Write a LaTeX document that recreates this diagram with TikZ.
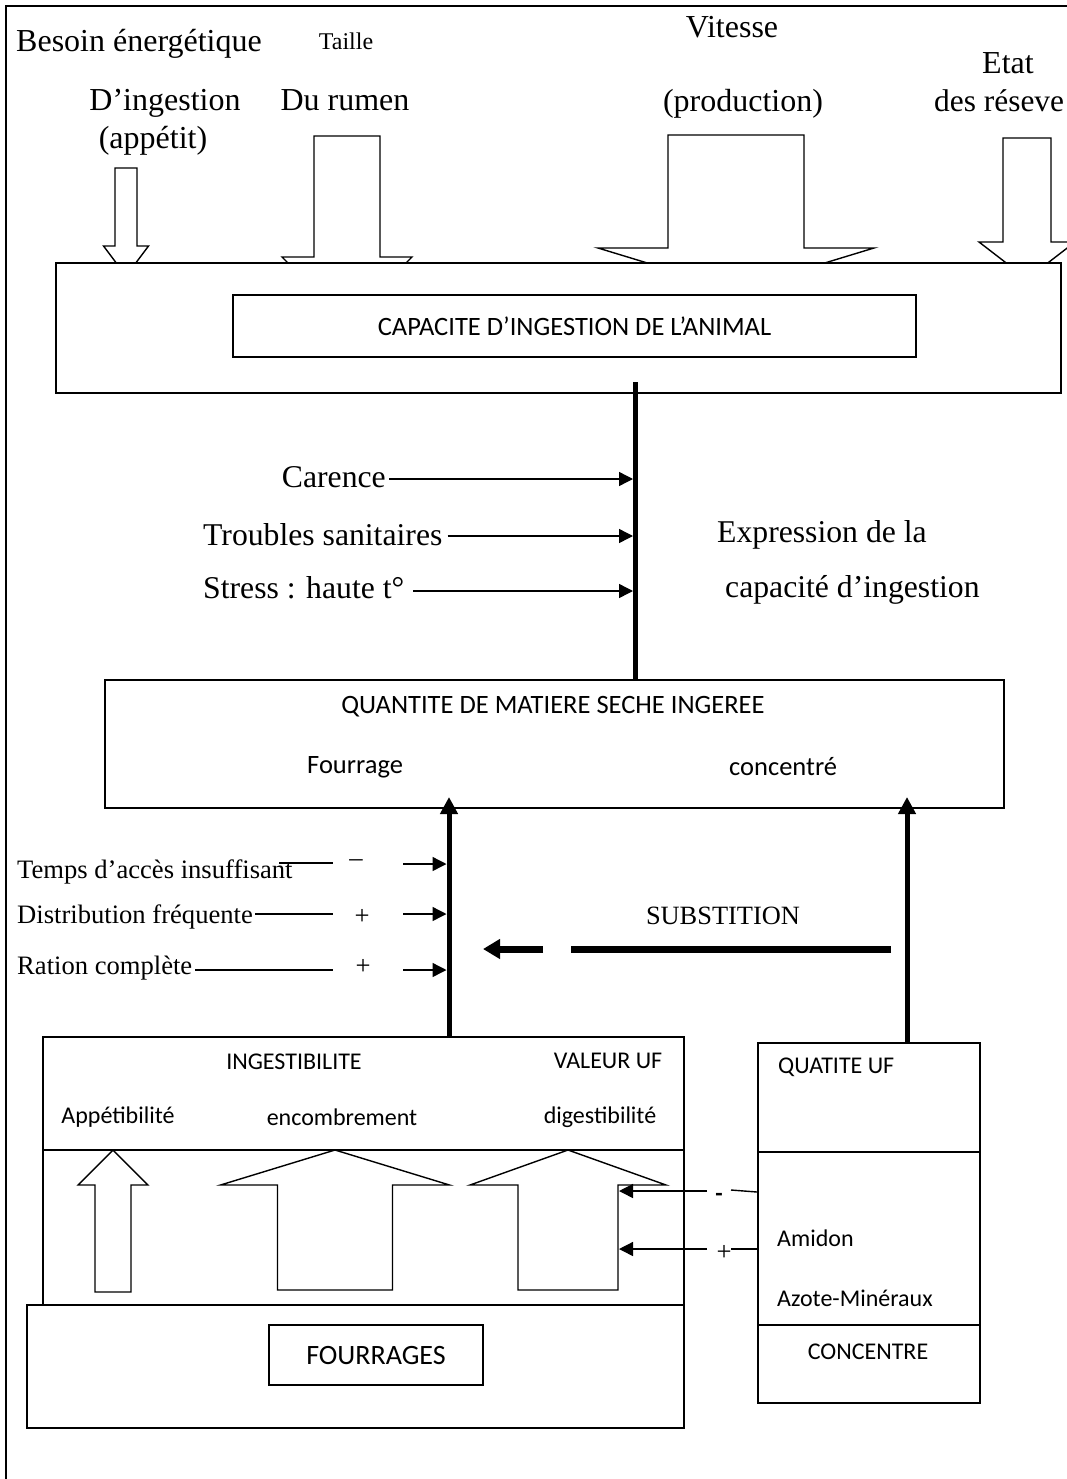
\documentclass[tikz,border=0pt]{standalone}
\usepackage{fontspec}
\setmainfont{Liberation Serif}
\setsansfont{Carlito}
\usetikzlibrary{arrows.meta}

% hollow block arrow: centre x, shaft half-width, head half-width,
% tail y, head-base y, tip y
\newcommand\blockarrowshape[6]{%
  \draw[blockarrow] ({#1-#2},#4) -- ({#1+#2},#4) -- ({#1+#2},#5) -- ({#1+#3},#5)
    -- (#1,#6) -- ({#1-#3},#5) -- ({#1-#2},#5) -- cycle;}

\begin{document}
\begin{tikzpicture}[x=1pt,y=-1pt,
  frame/.style={line width=1.6pt},
  box/.style={draw, line width=1.6pt, fill=white, inner sep=0pt},
  blockarrow/.style={draw, line width=1.4pt, fill=white, line join=miter},
  spine/.style={line width=5pt},
  link/.style={line width=1.4pt},
  pointer/.style={link, -{Triangle[length=14pt,width=14pt]}},
  bigpointer/.style={spine, -{Triangle[length=17pt,width=17pt]}},
  serifXL/.style={font=\fontsize{32}{38}\selectfont, inner sep=0pt},
  serifL/.style={font=\fontsize{31.7}{38}\selectfont, inner sep=0pt},
  serifM/.style={font=\fontsize{26.6}{32}\selectfont, inner sep=0pt},
  serifS/.style={font=\fontsize{24}{29}\selectfont, inner sep=0pt},
  sansL/.style={font=\sffamily\fontsize{26.5}{32}\selectfont, inner sep=0pt},
  sansM/.style={font=\sffamily\fontsize{24}{29}\selectfont, inner sep=0pt},
]
\useasboundingbox (0,0) rectangle (1066,1479);

% page frame (open to the right and bottom)
\draw[frame] (6,1490) -- (6,6) -- (1075,6);

% ---- factors acting on the animal ----
\blockarrowshape{126}{11}{22.5}{168}{246}{276}
\blockarrowshape{347}{33}{65}{136}{257}{322}
\blockarrowshape{736}{68}{138}{135}{248}{290}
\blockarrowshape{1027}{24}{48}{138}{242}{279}

\node[serifXL, anchor=base] (besoin) at (139,52) {Besoin énergétique};
\node[serifXL, anchor=base] (dingestion) at (165,111) {D’ingestion};
\node[serifXL, anchor=base] (appetit) at (153,149) {(appétit)};
\node[serifS, anchor=base] (taille) at (346,50) {Taille};
\node[serifXL, anchor=base] (rumen) at (345,111) {Du rumen};
\node[serifXL, anchor=base] (vitesse) at (732,38) {Vitesse};
\node[serifXL, anchor=base] (production) at (743,112) {(production)};
\node[serifXL, anchor=base] (etat) at (1008,74) {Etat};
\node[serifXL, font=\fontsize{31.4}{38}\selectfont, anchor=base west] (reserves) at (934,112) {des réseve};

% ---- ingestion capacity ----
\node[box, anchor=north west, minimum width=1005pt, minimum height=130pt] (capframe) at (55,262) {};
\node[box, sansL, minimum width=683pt, minimum height=62pt] (capacite) at (574.5,326)
  {CAPACITE D’INGESTION DE L’ANIMAL};

\coordinate (s1top) at (635,382);
\coordinate (s1bot) at (635,679);
\draw[spine] (s1top) -- (s1bot);

\node[serifL, anchor=east] (carence) at (386,477) {Carence};
\node[serifL, anchor=west] (troubles) at (203,535) {Troubles sanitaires};
\node[serifL, anchor=west] (stress) at (203,588) {Stress : haute t°};
\draw[pointer, shorten >=2pt] ([xshift=3pt,yshift=-2pt]carence.east) -- ([yshift=-2pt]carence.east -| s1top);
\draw[pointer, shorten >=2pt] ([xshift=5pt,yshift=-1pt]troubles.east) -- ([yshift=-1pt]troubles.east -| s1top);
\draw[pointer, shorten >=2pt] ([xshift=9pt,yshift=-3pt]stress.east) -- ([yshift=-3pt]stress.east -| s1top);

\node[serifL, anchor=west] (expr1) at (717,535) {Expression de la};
\node[serifL, anchor=west] (expr2) at (725,590) {capacité d’ingestion};

% ---- dry matter intake ----
\node[box, anchor=north west, minimum width=899pt, minimum height=128pt] (quant) at (104,679) {};
\node[sansL] (qtitle) at (553,707) {QUANTITE DE MATIERE SECHE INGEREE};
\node[sansL, anchor=west] (fourrage) at (307,767) {Fourrage};
\node[sansL, anchor=west] (concentre) at (729,767) {concentré};

\coordinate (s2bot) at (449,1036);
\coordinate (s2top) at (449,797);
\draw[bigpointer] (s2bot) -- (s2top);
\coordinate (s3bot) at (907,1042);
\coordinate (s3top) at (907,797);
\draw[bigpointer] (s3bot) -- (s3top);

% feeding practices
\node[serifM, anchor=west] (temps) at (17,872) {Temps d’accès insuffisant};
\node[serifM, anchor=west] (distrib) at (17,917) {Distribution fréquente};
\node[serifM, anchor=west] (ration) at (17,968) {Ration complète};

\coordinate (t1a) at (279,863); \coordinate (t1b) at (333,863);
\coordinate (t2a) at (255,914); \coordinate (t2b) at (333,914);
\coordinate (t3a) at (195,970); \coordinate (t3b) at (333,970);
\draw[link] (t1a) -- (t1b);
\draw[link] (t2a) -- (t2b);
\draw[link] (t3a) -- (t3b);
\node[serifM] (sgn1) at (356,863) {–};
\node[serifM] (sgn2) at (362,917) {+};
\node[serifM] (sgn3) at (363,967) {+};
\coordinate (r1) at (403,864);
\coordinate (r2) at (403,914);
\coordinate (r3) at (403,970);
\draw[pointer, shorten >=2.5pt] (r1) -- (r1 -| s2top);
\draw[pointer, shorten >=2.5pt] (r2) -- (r2 -| s2top);
\draw[pointer, shorten >=2.5pt] (r3) -- (r3 -| s2top);

% substitution
\node[serifM, font=\fontsize{26.4}{32}\selectfont] (subst) at (723,916) {SUBSTITION};
\coordinate (subR) at (891,949);
\coordinate (subM) at (571,949);
\coordinate (subN) at (543,949);
\coordinate (subL) at (483,949);
\draw[line width=7pt] (subR) -- (subM);
\draw[line width=7pt, -{Triangle[length=17pt,width=19pt]}] (subN) -- (subL);

% ---- forages ----
\node[box, anchor=north west, minimum width=641pt, minimum height=268pt] (ingbox) at (42,1036) {};
\coordinate (div1a) at (42,1150); \coordinate (div1b) at (683,1150);
\draw[line width=1.6pt] (div1a) -- (div1b);
\node[sansM] (ingestib) at (294,1062) {INGESTIBILITE};
\node[sansM] (valeur) at (608,1061) {VALEUR UF};
\node[sansM] (appet) at (118,1117) {Appétibilité};
\node[sansM] (encomb) at (342,1117) {encombrement};
\node[sansM] (digest) at (600,1117) {digestibilité};

\blockarrowshape{113}{18}{35}{1292}{1185}{1150}
\blockarrowshape{335}{57.5}{114.5}{1290}{1185}{1150}
\blockarrowshape{568}{50}{98}{1290}{1185}{1150}

\node[box, anchor=north west, minimum width=657pt, minimum height=123pt] (fourbox) at (26,1304) {};
\node[box, font=\sffamily\fontsize{28}{34}\selectfont, minimum width=214pt, minimum height=60pt]
  (fourrages) at (376,1355) {FOURRAGES};

% ---- concentrate ----
\node[box, anchor=north west, minimum width=222pt, minimum height=360pt] (concol) at (757,1042) {};
\coordinate (div2a) at (757,1152); \coordinate (div2b) at (979,1152);
\coordinate (div3a) at (757,1325); \coordinate (div3b) at (979,1325);
\draw[line width=1.6pt] (div2a) -- (div2b);
\draw[line width=1.6pt] (div3a) -- (div3b);
\node[sansM, anchor=west] (quatite) at (778,1067) {QUATITE UF};
\node[sansM, anchor=west] (amidon) at (777,1238) {Amidon};
\node[sansM, anchor=west] (azote) at (777,1298) {Azote-Minéraux};
\node[sansM] (concentrelbl) at (868,1352) {CONCENTRE};

\coordinate (m1a) at (757,1192); \coordinate (m1b) at (731,1190);
\coordinate (m2a) at (757,1249); \coordinate (m2b) at (731,1249);
\draw[link] (m1a) -- (m1b);
\draw[link] (m2a) -- (m2b);
\node[sansM, font=\sffamily\bfseries\fontsize{24}{29}\selectfont] (minus) at (719,1197) {-};
\node[serifM] (plus) at (724,1253) {+};
\coordinate (m1c) at (707,1191); \coordinate (d1) at (619,1191);
\coordinate (m2c) at (707,1249); \coordinate (d2) at (619,1249);
\draw[pointer] (m1c) -- (d1);
\draw[pointer] (m2c) -- (d2);
\end{tikzpicture}
\end{document}
